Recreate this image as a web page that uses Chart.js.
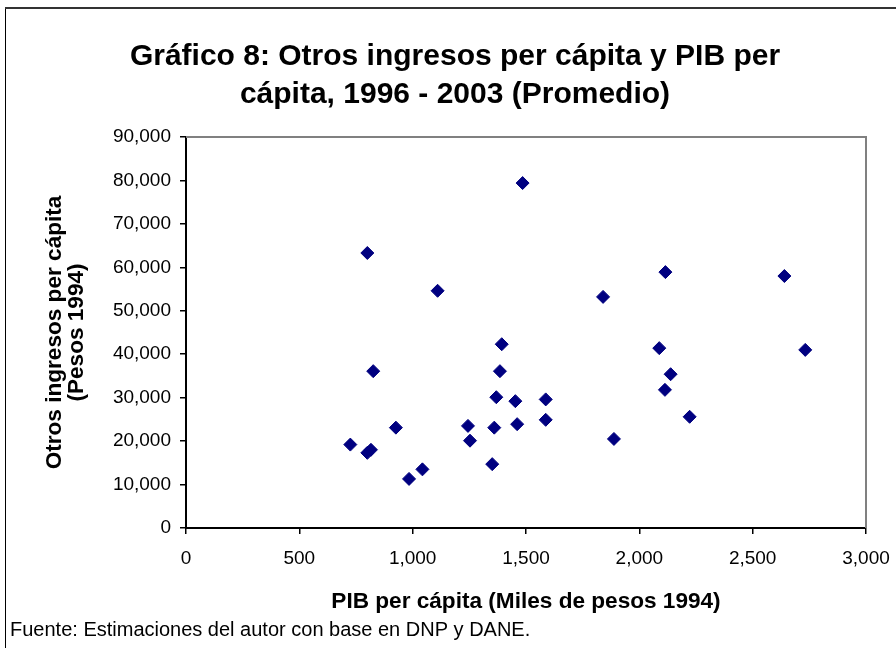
<!DOCTYPE html>
<html>
<head>
<meta charset="utf-8">
<script src="https://cdn.jsdelivr.net/npm/chart.js@4"></script>
<style>
  html, body { margin: 0; padding: 0; background: #fff; }
</style>
</head>
<body>
<canvas id="chart" width="896" height="648"></canvas>
<script>
// Datos (PIB per cápita vs otros ingresos per cápita)
const pibPerCapita = [
  1485, 800, 1110, 1840, 2115, 2640, 1393, 826, 1385, 1369,
  1453, 926, 1244, 1360, 1461, 725, 1253, 800, 816, 984,
  1043, 1351, 1587, 1587, 1888, 2088, 2138, 2113, 2222, 2732
];
const otrosIngresos = [
  79400, 63300, 54600, 53200, 58900, 58000, 42300, 36100, 36100, 30100,
  29200, 23100, 23500, 23100, 23900, 19200, 20100, 17300, 18000, 11300,
  13500, 14700, 29600, 24900, 20500, 41400, 35400, 31800, 25600, 41000
];
const xTickValues = [0, 500, 1000, 1500, 2000, 2500, 3000];
const yTickValues = [0, 10000, 20000, 30000, 40000, 50000, 60000, 70000, 80000, 90000];

const titleLines = ['Gráfico 8: Otros ingresos per cápita y PIB per', 'cápita, 1996 - 2003 (Promedio)'];
const yTitle = ['Otros ingresos per cápita', '(Pesos 1994)'];
const xTitle = 'PIB per cápita (Miles de pesos 1994)';
const fuente = 'Fuente: Estimaciones del autor con base en DNP y DANE.';

const FONT = "'Liberation Sans', Arial, sans-serif";
const points = pibPerCapita.map((x, i) => ({ x: x, y: otrosIngresos[i] }));

// marco exterior y borde gris del área de trazado
const framePlugin = {
  id: 'frame',
  beforeDraw(chart) {
    const ctx = chart.ctx;
    ctx.save();
    ctx.fillStyle = '#fff';
    ctx.fillRect(0, 0, chart.width, chart.height);
    ctx.strokeStyle = '#000';
    ctx.lineWidth = 1;
    ctx.beginPath();
    ctx.moveTo(5.5, chart.height);
    ctx.lineTo(5.5, 8);
    ctx.stroke();
    ctx.strokeStyle = '#333';
    ctx.lineWidth = 2;
    ctx.beginPath();
    ctx.moveTo(5, 8);
    ctx.lineTo(chart.width, 8);
    ctx.stroke();
    ctx.restore();
  },
  beforeDatasetsDraw(chart) {
    const a = chart.chartArea;
    const ctx = chart.ctx;
    ctx.save();
    ctx.strokeStyle = '#808080';
    ctx.lineWidth = 2;
    ctx.beginPath();
    ctx.moveTo(a.left, a.top);
    ctx.lineTo(a.right, a.top);
    ctx.lineTo(a.right, a.bottom);
    ctx.stroke();
    ctx.restore();
  }
};

new Chart(document.getElementById('chart'), {
  type: 'scatter',
  data: {
    datasets: [{
      data: points,
      pointStyle: 'rectRot',
      pointRadius: 6.5,
      pointHoverRadius: 6.5,
      backgroundColor: '#000080',
      borderColor: '#000080',
      borderWidth: 1
    }]
  },
  options: {
    responsive: false,
    animation: false,
    locale: 'en-US',
    // derecha negativa para centrar el título como en el original
    layout: { padding: { left: 10, right: -4, top: 0, bottom: 0 } },
    plugins: {
      legend: { display: false },
      tooltip: { enabled: false },
      title: {
        display: true,
        text: titleLines,
        color: '#000',
        font: { family: FONT, size: 30, weight: 'bold', lineHeight: 1.27 },
        padding: { top: 38, bottom: 22.8 }
      },
      subtitle: {
        display: true,
        position: 'bottom',
        align: 'start',
        text: fuente,
        color: '#000',
        font: { family: FONT, size: 20, lineHeight: 1.2 },
        padding: { top: 0, bottom: 6 }
      }
    },
    scales: {
      x: {
        type: 'linear',
        min: 0,
        max: 3000,
        afterBuildTicks: axis => { axis.ticks = xTickValues.map(v => ({ value: v })); },
        afterFit: axis => {
          axis.height = 90;
          axis.paddingLeft = 0;
          axis.paddingRight = 30;
        },
        grid: { drawOnChartArea: false, drawTicks: true, tickLength: 6, color: '#000', lineWidth: 1.5 },
        border: { color: '#000', width: 2 },
        ticks: { color: '#000', padding: 13, font: { family: FONT, size: 19 }, maxRotation: 0 },
        title: {
          display: true,
          text: xTitle,
          color: '#000',
          font: { family: FONT, size: 22.6, weight: 'bold', lineHeight: 1.2 },
          padding: { top: 0, bottom: 3 }
        }
      },
      y: {
        type: 'linear',
        min: 0,
        max: 90000,
        afterBuildTicks: axis => { axis.ticks = yTickValues.map(v => ({ value: v })); },
        afterFit: axis => { axis.width = 176; },
        grid: { drawOnChartArea: false, drawTicks: true, tickLength: 6, color: '#000', lineWidth: 1.5 },
        border: { color: '#000', width: 2 },
        ticks: { color: '#000', padding: 9, font: { family: FONT, size: 19 } },
        title: {
          display: true,
          text: yTitle,
          color: '#000',
          font: { family: FONT, size: 22.6, weight: 'bold', lineHeight: 1.0 },
          padding: { top: 33, bottom: 0 }
        }
      }
    }
  },
  plugins: [framePlugin]
});
</script>
</body>
</html>
